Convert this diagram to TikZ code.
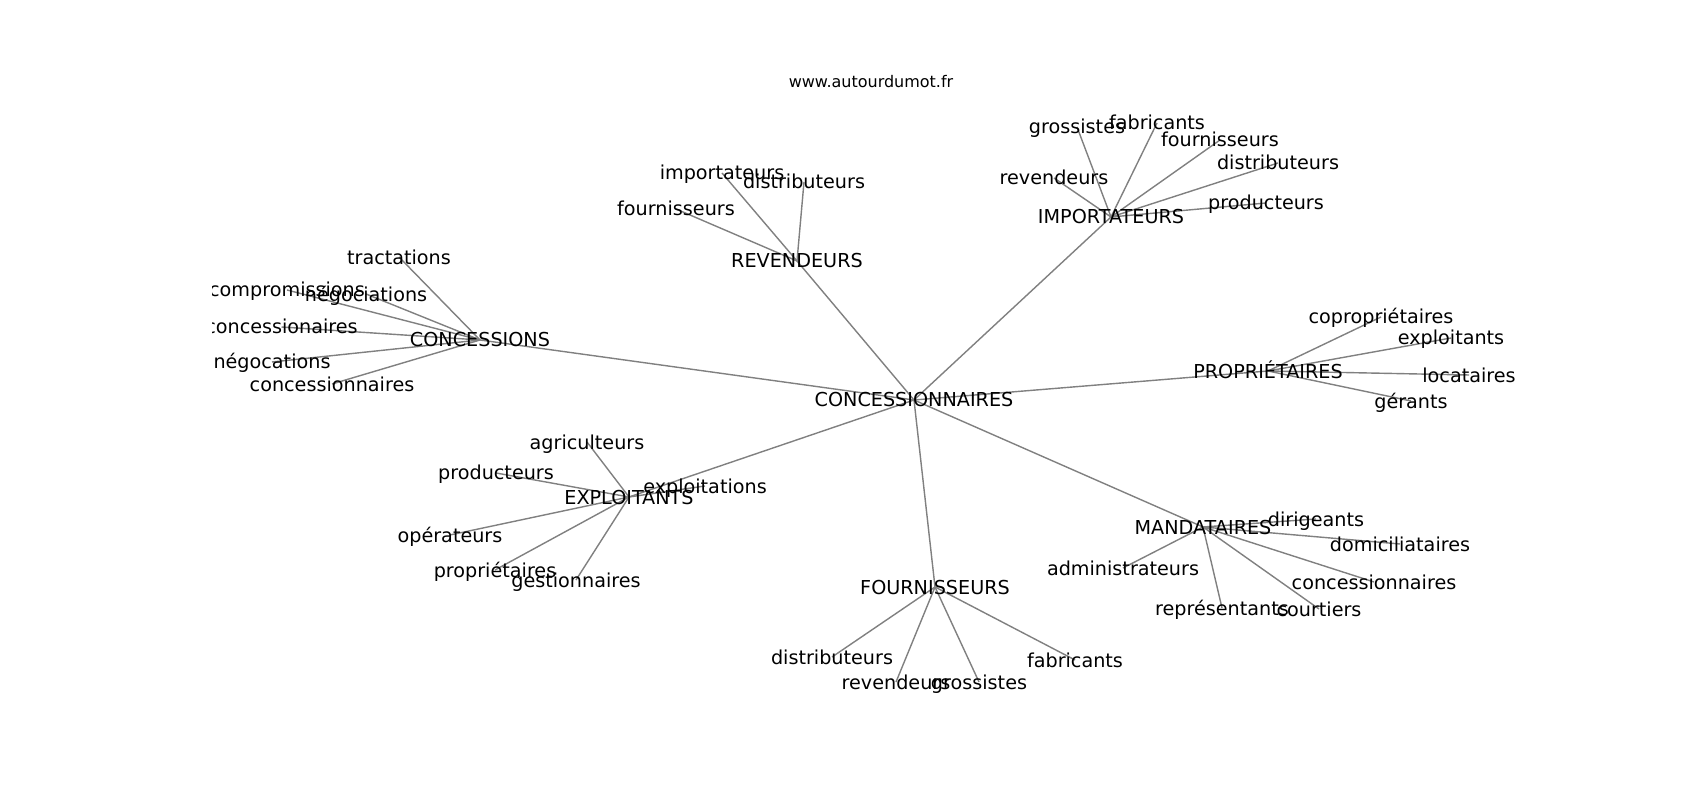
\documentclass[tikz,border=0pt]{standalone}
\usepackage{fontspec}
\setmainfont{DejaVu Sans}
\pgfdeclarelayer{background}
\pgfsetlayers{background,main}

\begin{document}
\begin{tikzpicture}[
        word/.style = {inner sep=0pt,
        text height=3.99pt, text depth=0pt,
        font=\fontsize{5.46}{6.5}\selectfont},
        edge/.style = {draw=gray, line width=0.4pt}]

    \useasboundingbox (0,0) rectangle (17,8);

    % Title
    \node[inner sep=0pt, text height=3.32pt, text depth=0pt,
        font=\fontsize{4.55}{5.5}\selectfont] (title) at (8.71,7.18) {www.autourdumot.fr};

    \begin{scope}
    \clip (2.125,0.88) rectangle (15.3,7.04);

    % Centre
    \node[word] (cn) at (9.14,4.00) {CONCESSIONNAIRES};

    % Revendeurs
    \node[word] (rev) at (7.97,5.39) {REVENDEURS};
    \node[word] (revImp) at (7.22,6.27) {importateurs};
    \node[word] (revDis) at (8.04,6.18) {distributeurs};
    \node[word] (revFou) at (6.76,5.91) {fournisseurs};

    % Importateurs
    \node[word] (imp) at (11.11,5.83) {IMPORTATEURS};
    \node[word] (impGro) at (10.77,6.73) {grossistes};
    \node[word] (impFab) at (11.57,6.77) {fabricants};
    \node[word] (impFou) at (12.20,6.60) {fournisseurs};
    \node[word] (impDis) at (12.78,6.37) {distributeurs};
    \node[word] (impPro) at (12.66,5.97) {producteurs};
    \node[word] (impRev) at (10.54,6.22) {revendeurs};

    % Concessions
    \node[word] (cs) at (4.80,4.60) {CONCESSIONS};
    \node[word] (csTra) at (3.99,5.43) {tractations};
    \node[word] (csCom) at (2.87,5.10) {compromissions};
    \node[word] (csNeg) at (3.66,5.06) {négociations};
    \node[word] (csCna) at (2.815,4.73) {concessionaires};
    \node[word] (csNgo) at (2.72,4.38) {négocations};
    \node[word] (csCnn) at (3.32,4.16) {concessionnaires};

    % Proprietaires
    \node[word] (pr) at (12.68,4.29) {PROPRIÉTAIRES};
    \node[word] (prCop) at (13.81,4.83) {copropriétaires};
    \node[word] (prExp) at (14.51,4.62) {exploitants};
    \node[word] (prLoc) at (14.69,4.25) {locataires};
    \node[word] (prGer) at (14.11,3.99) {gérants};

    % Mandataires
    \node[word] (ma) at (12.03,2.73) {MANDATAIRES};
    \node[word] (maDir) at (13.16,2.81) {dirigeants};
    \node[word] (maDom) at (14.00,2.56) {domiciliataires};
    \node[word] (maAdm) at (11.23,2.32) {administrateurs};
    \node[word] (maCon) at (13.74,2.18) {concessionnaires};
    \node[word] (maRep) at (12.22,1.92) {représentants};
    \node[word] (maCou) at (13.19,1.91) {courtiers};

    % Fournisseurs
    \node[word] (fo) at (9.35,2.13) {FOURNISSEURS};
    \node[word] (foDis) at (8.32,1.43) {distributeurs};
    \node[word] (foRev) at (8.96,1.18) {revendeurs};
    \node[word] (foGro) at (9.79,1.18) {grossistes};
    \node[word] (foFab) at (10.75,1.40) {fabricants};

    % Exploitants
    \node[word] (ex) at (6.29,3.03) {EXPLOITANTS};
    \node[word] (exAgr) at (5.87,3.58) {agriculteurs};
    \node[word] (exPro) at (4.96,3.27) {producteurs};
    \node[word] (exExp) at (7.05,3.14) {exploitations};
    \node[word] (exOpe) at (4.50,2.65) {opérateurs};
    \node[word] (exPri) at (4.95,2.30) {propriétaires};
    \node[word] (exGes) at (5.76,2.20) {gestionnaires};
    \end{scope}

    % Edges
    \begin{pgfonlayer}{background}
    \foreach \a/\b in {cn/rev, cn/imp, cn/cs, cn/pr, cn/ex, cn/ma, cn/fo,
            rev/revImp, rev/revDis, rev/revFou,
            imp/impGro, imp/impFab, imp/impFou, imp/impDis, imp/impPro, imp/impRev,
            cs/csTra, cs/csCom, cs/csNeg, cs/csCna, cs/csNgo, cs/csCnn,
            pr/prCop, pr/prExp, pr/prLoc, pr/prGer,
            ma/maDir, ma/maDom, ma/maAdm, ma/maCon, ma/maRep, ma/maCou,
            fo/foDis, fo/foRev, fo/foGro, fo/foFab,
            ex/exAgr, ex/exPro, ex/exExp, ex/exOpe, ex/exPri, ex/exGes}
        \draw[edge] (\a.center) -- (\b.center);
    \end{pgfonlayer}

\end{tikzpicture}
\end{document}
